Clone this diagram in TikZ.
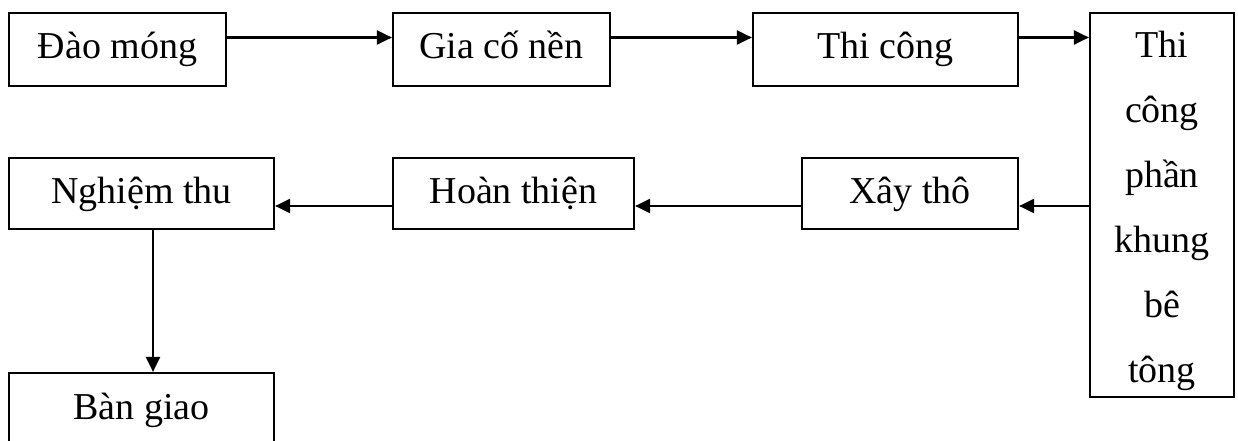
\documentclass[tikz,border=0pt]{standalone}
\usepackage{fontspec}
\setmainfont{Liberation Serif}
\usetikzlibrary{arrows.meta}
\begin{document}
\begin{tikzpicture}[x=1pt,y=-1pt,
  box/.style={draw, line width=2.2pt, inner sep=0pt, align=center,
    font=\fontsize{38}{65}\selectfont},
  one/.style={box, text height=27pt, text depth=8pt},
  conn/.style={line width=2.2pt, -{Triangle[length=15pt,width=14pt]}}]
\useasboundingbox (0,0) rectangle (1238,441);
\clip (0,0) rectangle (1238,441);
\node[one, minimum width=217pt, minimum height=73pt] (dao) at (117.5,49.5) {Đào móng};
\node[one, minimum width=217pt, minimum height=73pt] (gia) at (501.5,49.5) {Gia cố nền};
\node[one, minimum width=265pt, minimum height=73pt] (thi) at (885.5,49.5) {Thi công};
\node[box, minimum width=144pt, minimum height=384pt, text height=362pt, text depth=8pt] (tall) at (1162,205) {Thi\\công\\phần\\khung\\bê\\tông};
\node[one, minimum width=216pt, minimum height=71pt] (xay) at (910,193.5) {Xây thô};
\node[one, minimum width=241pt, minimum height=71pt] (hoan) at (513.5,193.5) {Hoàn thiện};
\node[one, minimum width=265pt, minimum height=71pt] (nghiem) at (141.5,193.5) {Nghiệm thu};
\node[one, minimum width=265pt, minimum height=73pt] (ban) at (141.5,409.5) {Bàn giao};
\draw[conn] ([yshift=12pt]dao.east) -- ([yshift=12pt]gia.west);
\draw[conn] ([yshift=12pt]gia.east) -- ([yshift=12pt]thi.west);
\path ([yshift=12pt]thi.east) coordinate (t1);
\draw[conn] (t1) -- (t1 -| tall.west);
\path ([yshift=-12.5pt]xay.east) coordinate (x1);
\draw[conn] (x1 -| tall.west) -- (x1);
\draw[conn] ([yshift=-12.5pt]xay.west) -- ([yshift=-12.5pt]hoan.east);
\draw[conn] ([yshift=-12.5pt]hoan.west) -- ([yshift=-12.5pt]nghiem.east);
\draw[conn] ([xshift=11.5pt]nghiem.south) -- ([xshift=11.5pt]ban.north);
\end{tikzpicture}
\end{document}
